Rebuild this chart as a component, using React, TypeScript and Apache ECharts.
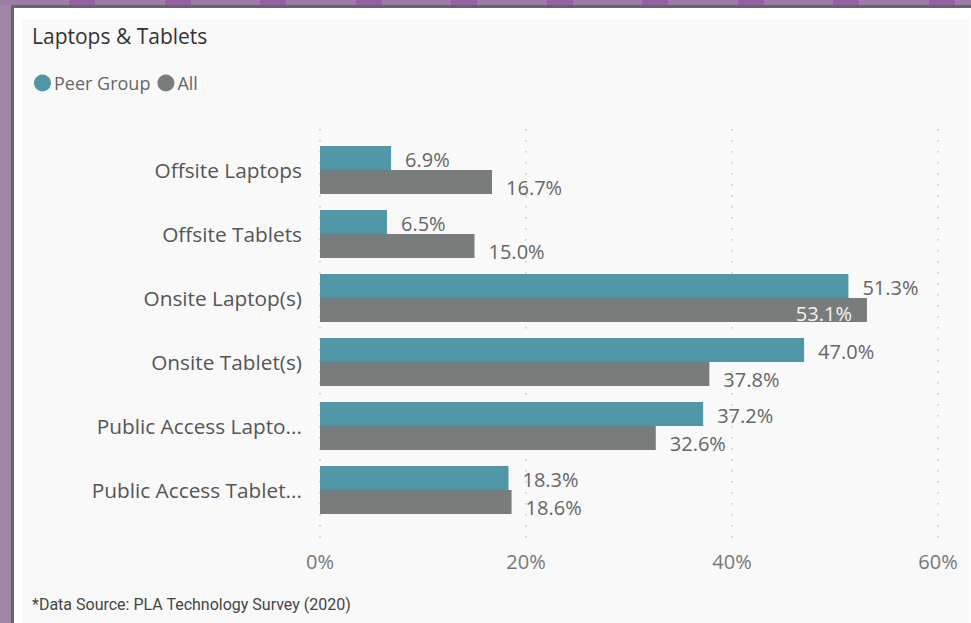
import React, { useEffect, useRef } from "react";
import * as echarts from "echarts";

const categories = [
  "Offsite Laptops",
  "Offsite Tablets",
  "Onsite Laptop(s)",
  "Onsite Tablet(s)",
  "Public Access Lapto...",
  "Public Access Tablet...",
];
const peerGroup = [6.9, 6.5, 51.3, 47.0, 37.2, 18.3];
const allGroup = [16.7, 15.0, 53.1, 37.8, 32.6, 18.6];
const seriesNames = ["Peer Group", "All"];
const xMin = 0;
const xMax = 60;
const xStep = 20;

const FONT = "'Segoe UI', 'Open Sans', 'Noto Sans', sans-serif";
const TEAL = "#4f97a7";
const GRAY = "#787c7b";

export default function App() {
  const ref = useRef<HTMLDivElement>(null);

  useEffect(() => {
    if (!ref.current) return;
    const chart = echarts.init(ref.current, undefined, { renderer: "svg" });
    const fmt = (v: number) => v.toFixed(1) + "%";
    const labelBase = (dy: number) => ({
      show: true,
      position: "right" as const,
      distance: 14,
      fontFamily: FONT,
      fontSize: 20,
      lineHeight: 20,
      color: "#666666",
      offset: [0, dy],
      formatter: (p: any) => fmt(p.value),
    });
    const maxIdx = allGroup.indexOf(Math.max(...allGroup));
    chart.setOption({
      animation: false,
      backgroundColor: "transparent",
      title: {
        text: "Laptops & Tablets",
        left: 27,
        top: 20,
        textStyle: { fontFamily: FONT, fontSize: 21, fontWeight: "normal", color: "#333333" },
      },
      legend: {
        left: 29,
        top: 69,
        icon: "circle",
        itemWidth: 17,
        itemHeight: 17,
        itemGap: 7,
        textStyle: { fontFamily: FONT, fontSize: 18, color: "#666666", padding: [0, 0, 0, -2] },
        data: seriesNames,
      },
      grid: [
        { left: 320, right: 33, top: 138, height: 384 },
        { left: 320, right: 33, top: 129, height: 414 },
      ],
      xAxis: [
        {
          type: "value",
          gridIndex: 0,
          min: xMin,
          max: xMax,
          interval: xStep,
          axisLine: { show: false },
          axisTick: { show: false },
          splitLine: { show: false },
          axisLabel: {
            formatter: "{value}%",
            fontFamily: FONT,
            fontSize: 20,
            color: "#777777",
            margin: 29,
          },
        },
        {
          type: "value",
          gridIndex: 1,
          min: xMin,
          max: xMax,
          interval: xStep,
          axisLine: { show: false },
          axisTick: { show: false },
          axisLabel: { show: false },
          splitLine: { show: true, lineStyle: { color: "#c6c6c6", width: 1.5, type: [1.5, 9.5] } },
        },
      ],
      yAxis: [
        {
          type: "category",
          gridIndex: 0,
          data: categories,
          inverse: true,
          axisLine: { show: false },
          axisTick: { show: false },
          axisLabel: {
            fontFamily: FONT,
            fontSize: 20.8,
            color: "#555555",
            margin: 18,
          },
        },
        { type: "value", gridIndex: 1, min: 0, max: 1, show: false },
      ],
      series: [
        {
          name: seriesNames[0],
          type: "bar",
          xAxisIndex: 0,
          yAxisIndex: 0,
          data: peerGroup,
          itemStyle: { color: TEAL },
          barGap: "0%",
          barCategoryGap: "25%",
          label: labelBase(1),
        },
        {
          name: seriesNames[1],
          type: "bar",
          xAxisIndex: 0,
          yAxisIndex: 0,
          data: allGroup.map((v, i) =>
            i === maxIdx
              ? {
                  value: v,
                  label: { position: "insideRight", distance: 15, color: "#f4f4f4", offset: [0, 3] },
                }
              : v
          ),
          itemStyle: { color: GRAY },
          barGap: "0%",
          barCategoryGap: "25%",
          label: labelBase(5),
        },
      ],
    });
    return () => chart.dispose();
  }, []);

  const blocks = [] as number[];
  for (let x = 69; x < 971; x += 95.5) blocks.push(x);

  return (
    <div style={{ position: "absolute", left: 0, top: 0, width: 971, height: 623, background: "#a185a9", overflow: "hidden" }}>
      <div style={{ position: "absolute", left: 0, top: 0, width: 971, height: 5, background: "#9e7ca8" }} />
      {blocks.map((x) => (
        <div key={x} style={{ position: "absolute", left: x, top: 0, width: 26, height: 5, background: "#9561a3" }} />
      ))}
      <div style={{ position: "absolute", left: 11, top: 5, width: 960, height: 618, background: "#636866" }} />
      <div style={{ position: "absolute", left: 14, top: 8, width: 957, height: 615, background: "#ffffff" }} />
      <div style={{ position: "absolute", left: 22, top: 19, width: 947, height: 604, background: "#f9f9f9" }} />
      <div
        style={{
          position: "absolute",
          left: 32,
          top: 595,
          fontFamily: "'DIN', 'Roboto', sans-serif",
          fontSize: 16,
          lineHeight: "20px",
          color: "#444444",
          whiteSpace: "nowrap",
        }}
      >
        *Data Source: PLA Technology Survey (2020)
      </div>
      <div ref={ref} style={{ position: "absolute", left: 0, top: 0, width: 971, height: 623 }} />
    </div>
  );
}
